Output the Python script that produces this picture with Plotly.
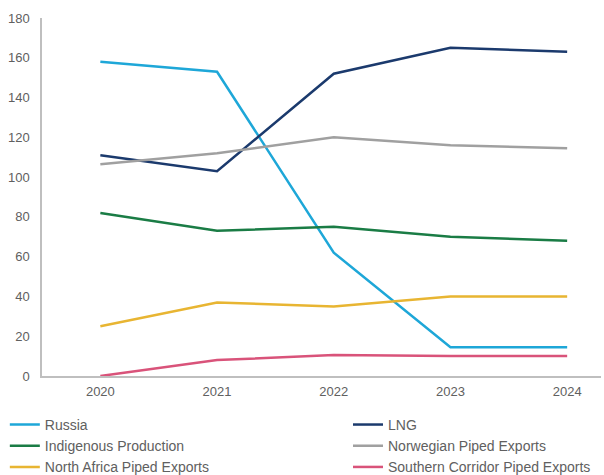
import plotly.graph_objects as go

years = [2020, 2021, 2022, 2023, 2024]

russia = [158, 153, 62, 14.5, 14.5]
lng = [111, 103, 152, 165, 163]
indigenous = [82, 73, 75, 70, 68]
norwegian = [106.5, 112, 120, 116, 114.5]
north_africa = [25, 37, 35, 40, 40]
southern_corridor = [0, 8, 10.5, 10, 10]

# (name, values, colour, legend column)
series = [
    ("Russia", russia, "#1ea7d8", "legend"),
    ("LNG", lng, "#1b3a6d", "legend2"),
    ("Indigenous Production", indigenous, "#1a7c45", "legend"),
    ("Norwegian Piped Exports", norwegian, "#a0a0a0", "legend2"),
    ("North Africa Piped Exports", north_africa, "#e8b532", "legend"),
    ("Southern Corridor Piped Exports", southern_corridor, "#d9537a", "legend2"),
]

fig = go.Figure()
for name, vals, color, leg in series:
    fig.add_trace(go.Scatter(
        x=years, y=vals, name=name, mode="lines",
        line=dict(color=color, width=2.5), legend=leg,
    ))

axis_font = dict(family="Liberation Sans, Arial, sans-serif", size=13, color="#606060")
legend_font = dict(family="Liberation Sans, Arial, sans-serif", size=14, color="#606060")

legend_common = dict(
    orientation="v", xanchor="left", y=-0.092, yanchor="top",
    font=legend_font, itemwidth=30, bgcolor="rgba(0,0,0,0)",
)

fig.update_layout(
    width=604, height=475,
    margin=dict(l=42, r=3, t=18, b=99, autoexpand=False),
    paper_bgcolor="white", plot_bgcolor="white",
    font=axis_font,
    xaxis=dict(
        range=[2019.5, 2024.29], tickvals=years, ticktext=[str(y) for y in years],
        showgrid=False, zeroline=False, showline=True, linecolor="#bfbfbf", linewidth=1.5,
        ticks="", tickfont=axis_font, ticklabelstandoff=3,
    ),
    yaxis=dict(
        range=[0, 180], dtick=20, showgrid=False, zeroline=False,
        showline=True, linecolor="#bfbfbf", linewidth=1.5, ticks="",
        tickfont=axis_font, ticklabelstandoff=8,
    ),
    legend=dict(x=-0.0665, **legend_common),
    legend2=dict(x=0.5474, **legend_common),
    showlegend=True,
)

fig.write_html("out.html")
